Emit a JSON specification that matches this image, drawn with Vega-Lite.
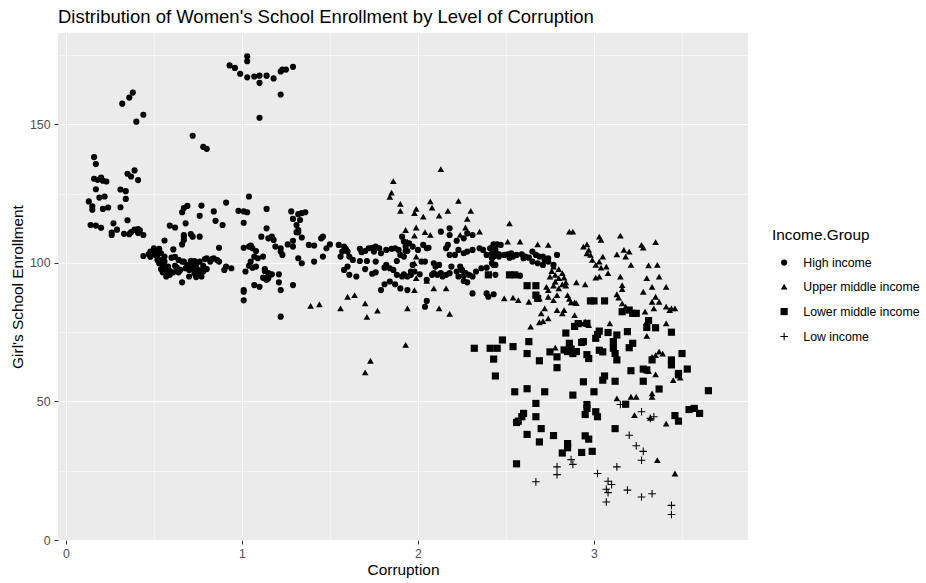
{
"$schema":"https://vega.github.io/schema/vega-lite/v6.json",
"width":690,"height":507,
"autosize":{"type":"none"},
"padding":{"left":58,"top":33,"right":178,"bottom":43},
"background":"white",
"title":{"text":"Distribution of Women's School Enrollment by Level of Corruption","anchor":"start","frame":"group","fontSize":18.5,"fontWeight":"normal","font":"Liberation Sans","color":"#000000","offset":7},
"config":{
"view":{"fill":"#EBEBEB","stroke":null},
"axis":{"domain":false,"labelFont":"Liberation Sans","labelFontSize":12.3,"labelColor":"#4D4D4D","titleFont":"Liberation Sans","titleFontSize":15.4,"titleFontWeight":"normal","titleColor":"#000000","tickColor":"#333333","tickSize":4,"tickWidth":1,"gridColor":"#FFFFFF","labelPadding":3},
"legend":{"titleFont":"Liberation Sans","titleFontSize":15.4,"titleFontWeight":"normal","titleColor":"#000000","labelFont":"Liberation Sans","labelFontSize":12.3,"labelColor":"#000000"}
},
"data":{"values":[
{"c":0.32,"e":157.5,"g":"High income"},{"c":0.36,"e":159.7,"g":"High income"},{"c":0.38,"e":161.5,"g":"High income"},{"c":0.40,"e":151.0,"g":"High income"},{"c":0.44,"e":153.5,"g":"High income"},{"c":0.16,"e":138.2,"g":"High income"},{"c":0.17,"e":135.7,"g":"High income"},{"c":0.16,"e":130.4,"g":"High income"},{"c":0.18,"e":130.0,"g":"High income"},{"c":0.20,"e":130.8,"g":"High income"},{"c":0.21,"e":129.7,"g":"High income"},{"c":0.23,"e":129.4,"g":"High income"},{"c":0.17,"e":126.6,"g":"High income"},{"c":0.31,"e":126.5,"g":"High income"},{"c":0.34,"e":125.9,"g":"High income"},{"c":0.35,"e":132.2,"g":"High income"},{"c":0.37,"e":131.2,"g":"High income"},{"c":0.39,"e":133.4,"g":"High income"},{"c":0.41,"e":129.9,"g":"High income"},{"c":0.72,"e":145.9,"g":"High income"},{"c":0.78,"e":141.9,"g":"High income"},{"c":0.80,"e":141.2,"g":"High income"},{"c":0.93,"e":171.3,"g":"High income"},{"c":0.96,"e":170.4,"g":"High income"},{"c":0.99,"e":168.3,"g":"High income"},{"c":1.03,"e":174.6,"g":"High income"},{"c":1.03,"e":172.8,"g":"High income"},{"c":1.03,"e":167.0,"g":"High income"},{"c":1.07,"e":167.3,"g":"High income"},{"c":1.10,"e":167.6,"g":"High income"},{"c":1.14,"e":167.6,"g":"High income"},{"c":1.10,"e":165.0,"g":"High income"},{"c":1.10,"e":152.4,"g":"High income"},{"c":1.18,"e":166.6,"g":"High income"},{"c":1.22,"e":169.1,"g":"High income"},{"c":1.23,"e":169.8,"g":"High income"},{"c":1.25,"e":169.8,"g":"High income"},{"c":1.29,"e":170.8,"g":"High income"},{"c":1.22,"e":160.8,"g":"High income"},
{"c":0.13,"e":122.2,"g":"High income"},{"c":0.15,"e":120.4,"g":"High income"},{"c":0.15,"e":119.2,"g":"High income"},{"c":0.19,"e":123.6,"g":"High income"},{"c":0.22,"e":124.0,"g":"High income"},{"c":0.21,"e":119.5,"g":"High income"},{"c":0.24,"e":120.0,"g":"High income"},{"c":0.31,"e":120.1,"g":"High income"},{"c":0.34,"e":123.1,"g":"High income"},{"c":0.14,"e":113.7,"g":"High income"},{"c":0.17,"e":113.5,"g":"High income"},{"c":0.20,"e":112.7,"g":"High income"},{"c":0.27,"e":114.3,"g":"High income"},{"c":0.26,"e":111.0,"g":"High income"},{"c":0.26,"e":110.1,"g":"High income"},{"c":0.29,"e":112.0,"g":"High income"},{"c":0.35,"e":115.4,"g":"High income"},{"c":0.33,"e":110.5,"g":"High income"},{"c":0.36,"e":110.4,"g":"High income"},{"c":0.37,"e":111.1,"g":"High income"},{"c":0.39,"e":112.0,"g":"High income"},{"c":0.41,"e":112.2,"g":"High income"},{"c":0.42,"e":111.8,"g":"High income"},{"c":0.41,"e":110.8,"g":"High income"},{"c":0.44,"e":110.1,"g":"High income"},{"c":0.44,"e":102.5,"g":"High income"},{"c":0.48,"e":102.2,"g":"High income"},{"c":0.48,"e":104.1,"g":"High income"},{"c":0.50,"e":105.3,"g":"High income"},{"c":0.51,"e":104.5,"g":"High income"},{"c":0.53,"e":105.1,"g":"High income"},{"c":0.49,"e":103.1,"g":"High income"},{"c":0.52,"e":102.9,"g":"High income"},{"c":0.54,"e":103.5,"g":"High income"},{"c":0.56,"e":102.3,"g":"High income"},{"c":0.54,"e":101.0,"g":"High income"},{"c":0.55,"e":99.3,"g":"High income"},{"c":0.55,"e":97.8,"g":"High income"},{"c":0.57,"e":96.9,"g":"High income"},{"c":0.55,"e":96.6,"g":"High income"},{"c":0.59,"e":97.1,"g":"High income"},{"c":0.56,"e":108.1,"g":"High income"},{"c":0.61,"e":104.9,"g":"High income"},{"c":0.60,"e":101.9,"g":"High income"},{"c":0.62,"e":102.2,"g":"High income"},{"c":0.62,"e":99.0,"g":"High income"},{"c":0.64,"e":96.6,"g":"High income"},{"c":0.63,"e":98.3,"g":"High income"},{"c":0.66,"e":100.5,"g":"High income"},{"c":0.67,"e":100.5,"g":"High income"},{"c":0.68,"e":98.1,"g":"High income"},{"c":0.66,"e":93.0,"g":"High income"},{"c":0.69,"e":99.3,"g":"High income"},{"c":0.71,"e":100.8,"g":"High income"},{"c":0.72,"e":99.5,"g":"High income"},{"c":0.72,"e":98.1,"g":"High income"},{"c":0.73,"e":100.7,"g":"High income"},{"c":0.74,"e":99.3,"g":"High income"},{"c":0.75,"e":97.5,"g":"High income"},{"c":0.75,"e":95.7,"g":"High income"},{"c":0.76,"e":96.6,"g":"High income"},{"c":0.77,"e":95.1,"g":"High income"},{"c":0.78,"e":97.8,"g":"High income"},{"c":0.78,"e":96.9,"g":"High income"},{"c":0.76,"e":100.5,"g":"High income"},{"c":0.79,"e":101.4,"g":"High income"},{"c":0.80,"e":101.7,"g":"High income"},{"c":0.83,"e":101.4,"g":"High income"},{"c":0.84,"e":101.7,"g":"High income"},{"c":0.86,"e":101.0,"g":"High income"},{"c":0.87,"e":100.5,"g":"High income"},{"c":0.90,"e":97.5,"g":"High income"},{"c":0.91,"e":98.7,"g":"High income"},{"c":0.94,"e":98.1,"g":"High income"},{"c":0.87,"e":105.5,"g":"High income"},{"c":0.59,"e":113.5,"g":"High income"},{"c":0.62,"e":112.8,"g":"High income"},{"c":0.66,"e":118.3,"g":"High income"},{"c":0.67,"e":119.8,"g":"High income"},{"c":0.69,"e":120.6,"g":"High income"},{"c":0.68,"e":114.3,"g":"High income"},{"c":0.67,"e":109.5,"g":"High income"},{"c":0.67,"e":108.3,"g":"High income"},{"c":0.66,"e":106.7,"g":"High income"},{"c":0.67,"e":110.1,"g":"High income"},{"c":0.71,"e":110.4,"g":"High income"},{"c":0.72,"e":109.5,"g":"High income"},{"c":0.76,"e":109.5,"g":"High income"},{"c":0.76,"e":117.0,"g":"High income"},{"c":0.77,"e":120.7,"g":"High income"},{"c":0.84,"e":118.6,"g":"High income"},{"c":0.85,"e":115.2,"g":"High income"},{"c":0.89,"e":113.7,"g":"High income"},{"c":0.91,"e":121.8,"g":"High income"},{"c":0.98,"e":118.8,"g":"High income"},{"c":1.01,"e":118.6,"g":"High income"},{"c":1.03,"e":118.3,"g":"High income"},{"c":1.01,"e":114.5,"g":"High income"},{"c":1.04,"e":124.0,"g":"High income"},{"c":1.14,"e":119.5,"g":"High income"},{"c":1.14,"e":112.5,"g":"High income"},{"c":1.11,"e":109.5,"g":"High income"},{"c":1.01,"e":105.5,"g":"High income"},{"c":1.04,"e":105.9,"g":"High income"},{"c":1.05,"e":106.3,"g":"High income"},{"c":1.06,"e":105.3,"g":"High income"},{"c":1.08,"e":104.3,"g":"High income"},{"c":1.07,"e":102.3,"g":"High income"},{"c":1.09,"e":101.7,"g":"High income"},{"c":1.05,"e":100.5,"g":"High income"},{"c":1.04,"e":99.0,"g":"High income"},{"c":1.06,"e":98.3,"g":"High income"},{"c":1.08,"e":98.7,"g":"High income"},{"c":1.02,"e":96.9,"g":"High income"},{"c":1.13,"e":97.1,"g":"High income"},{"c":1.15,"e":96.3,"g":"High income"},{"c":1.13,"e":94.5,"g":"High income"},{"c":1.01,"e":90.2,"g":"High income"},{"c":1.01,"e":89.6,"g":"High income"},{"c":1.01,"e":86.5,"g":"High income"},{"c":1.07,"e":92.0,"g":"High income"},{"c":1.10,"e":91.4,"g":"High income"},{"c":1.12,"e":94.7,"g":"High income"},{"c":1.15,"e":108.9,"g":"High income"},
{"c":0.52,"e":101.1,"g":"High income"},{"c":0.53,"e":99.9,"g":"High income"},{"c":0.56,"e":100.5,"g":"High income"},{"c":0.58,"e":98.7,"g":"High income"},{"c":0.51,"e":102.9,"g":"High income"},{"c":0.47,"e":103.1,"g":"High income"},{"c":0.59,"e":95.7,"g":"High income"},{"c":0.61,"e":96.6,"g":"High income"},{"c":0.54,"e":97.8,"g":"High income"},{"c":0.57,"e":95.1,"g":"High income"},{"c":0.64,"e":101.1,"g":"High income"},{"c":0.65,"e":97.5,"g":"High income"},{"c":0.70,"e":97.5,"g":"High income"},{"c":0.73,"e":96.3,"g":"High income"},{"c":0.75,"e":96.9,"g":"High income"},{"c":0.77,"e":97.1,"g":"High income"},{"c":0.78,"e":99.0,"g":"High income"},{"c":0.80,"e":97.8,"g":"High income"},{"c":0.82,"e":100.5,"g":"High income"},{"c":0.70,"e":95.1,"g":"High income"},{"c":0.74,"e":94.9,"g":"High income"},
{"c":1.28,"e":118.6,"g":"High income"},{"c":1.29,"e":115.9,"g":"High income"},{"c":1.31,"e":113.7,"g":"High income"},{"c":1.32,"e":117.6,"g":"High income"},{"c":1.34,"e":118.0,"g":"High income"},{"c":1.36,"e":118.3,"g":"High income"},{"c":1.33,"e":115.5,"g":"High income"},{"c":1.32,"e":111.9,"g":"High income"},{"c":1.32,"e":111.1,"g":"High income"},{"c":1.31,"e":111.1,"g":"High income"},{"c":1.17,"e":109.5,"g":"High income"},{"c":1.18,"e":108.3,"g":"High income"},{"c":1.19,"e":105.9,"g":"High income"},{"c":1.22,"e":105.3,"g":"High income"},{"c":1.22,"e":104.1,"g":"High income"},{"c":1.23,"e":102.9,"g":"High income"},{"c":1.26,"e":106.7,"g":"High income"},{"c":1.29,"e":108.0,"g":"High income"},{"c":1.34,"e":109.2,"g":"High income"},{"c":1.38,"e":106.5,"g":"High income"},{"c":1.41,"e":106.3,"g":"High income"},{"c":1.45,"e":108.9,"g":"High income"},{"c":1.46,"e":109.5,"g":"High income"},{"c":1.48,"e":105.3,"g":"High income"},{"c":1.50,"e":106.7,"g":"High income"},{"c":1.46,"e":102.3,"g":"High income"},{"c":1.41,"e":100.5,"g":"High income"},{"c":1.34,"e":99.9,"g":"High income"},{"c":1.32,"e":101.7,"g":"High income"},{"c":1.29,"e":105.9,"g":"High income"},{"c":1.12,"e":102.3,"g":"High income"},{"c":1.13,"e":97.8,"g":"High income"},{"c":1.15,"e":94.5,"g":"High income"},{"c":1.14,"e":93.9,"g":"High income"},{"c":1.17,"e":95.9,"g":"High income"},{"c":1.21,"e":95.9,"g":"High income"},{"c":1.21,"e":93.0,"g":"High income"},{"c":1.22,"e":90.2,"g":"High income"},{"c":1.29,"e":92.0,"g":"High income"},{"c":1.22,"e":80.6,"g":"High income"},
{"c":1.55,"e":106.5,"g":"High income"},{"c":1.58,"e":105.9,"g":"High income"},{"c":1.59,"e":105.1,"g":"High income"},{"c":1.60,"e":104.1,"g":"High income"},{"c":1.57,"e":104.1,"g":"High income"},{"c":1.56,"e":102.3,"g":"High income"},{"c":1.61,"e":102.3,"g":"High income"},{"c":1.67,"e":105.1,"g":"High income"},{"c":1.68,"e":103.9,"g":"High income"},{"c":1.70,"e":104.3,"g":"High income"},{"c":1.72,"e":105.3,"g":"High income"},{"c":1.74,"e":105.5,"g":"High income"},{"c":1.76,"e":105.9,"g":"High income"},{"c":1.75,"e":104.1,"g":"High income"},{"c":1.78,"e":105.3,"g":"High income"},{"c":1.79,"e":103.5,"g":"High income"},{"c":1.82,"e":104.7,"g":"High income"},{"c":1.85,"e":105.1,"g":"High income"},{"c":1.87,"e":105.3,"g":"High income"},{"c":1.89,"e":104.7,"g":"High income"},{"c":1.90,"e":102.9,"g":"High income"},{"c":1.92,"e":102.3,"g":"High income"},{"c":1.93,"e":104.3,"g":"High income"},{"c":1.88,"e":100.7,"g":"High income"},{"c":1.82,"e":99.3,"g":"High income"},{"c":1.76,"e":100.5,"g":"High income"},{"c":1.71,"e":100.7,"g":"High income"},{"c":1.67,"e":100.7,"g":"High income"},{"c":1.63,"e":101.1,"g":"High income"},{"c":1.60,"e":98.7,"g":"High income"},{"c":1.58,"e":97.5,"g":"High income"},{"c":1.61,"e":95.7,"g":"High income"},{"c":1.65,"e":95.1,"g":"High income"},{"c":1.70,"e":97.8,"g":"High income"},{"c":1.74,"e":96.1,"g":"High income"},{"c":1.76,"e":96.6,"g":"High income"},{"c":1.81,"e":98.3,"g":"High income"},{"c":1.84,"e":98.1,"g":"High income"},{"c":1.86,"e":97.5,"g":"High income"},{"c":1.88,"e":95.7,"g":"High income"},{"c":1.91,"e":95.1,"g":"High income"},{"c":1.92,"e":95.9,"g":"High income"},{"c":1.94,"e":95.1,"g":"High income"},{"c":1.96,"e":95.7,"g":"High income"},{"c":1.98,"e":96.9,"g":"High income"},{"c":1.84,"e":93.3,"g":"High income"},{"c":1.81,"e":92.3,"g":"High income"},{"c":1.79,"e":90.2,"g":"High income"},{"c":1.87,"e":92.3,"g":"High income"},{"c":1.90,"e":90.8,"g":"High income"},{"c":1.94,"e":90.2,"g":"High income"},
{"c":1.91,"e":109.5,"g":"High income"},{"c":1.92,"e":107.7,"g":"High income"},{"c":1.95,"e":107.1,"g":"High income"},{"c":1.97,"e":105.9,"g":"High income"},{"c":1.93,"e":105.9,"g":"High income"},{"c":1.94,"e":104.3,"g":"High income"},{"c":2.00,"e":104.7,"g":"High income"},{"c":2.03,"e":106.5,"g":"High income"},{"c":2.05,"e":105.3,"g":"High income"},{"c":2.06,"e":105.5,"g":"High income"},{"c":2.04,"e":100.5,"g":"High income"},{"c":2.02,"e":100.5,"g":"High income"},{"c":2.09,"e":99.9,"g":"High income"},{"c":2.10,"e":98.7,"g":"High income"},{"c":2.12,"e":99.3,"g":"High income"},{"c":2.09,"e":96.3,"g":"High income"},{"c":2.11,"e":95.7,"g":"High income"},{"c":2.13,"e":96.3,"g":"High income"},{"c":2.14,"e":95.1,"g":"High income"},{"c":2.16,"e":95.7,"g":"High income"},{"c":2.18,"e":96.3,"g":"High income"},{"c":2.19,"e":98.7,"g":"High income"},{"c":2.22,"e":96.9,"g":"High income"},{"c":2.24,"e":98.7,"g":"High income"},{"c":2.25,"e":97.5,"g":"High income"},{"c":2.23,"e":95.1,"g":"High income"},{"c":2.26,"e":95.4,"g":"High income"},{"c":2.27,"e":96.3,"g":"High income"},{"c":2.29,"e":95.7,"g":"High income"},{"c":2.26,"e":93.5,"g":"High income"},{"c":2.28,"e":93.0,"g":"High income"},{"c":2.31,"e":95.1,"g":"High income"},{"c":2.33,"e":96.9,"g":"High income"},{"c":2.36,"e":98.1,"g":"High income"},{"c":2.39,"e":98.3,"g":"High income"},{"c":2.42,"e":99.9,"g":"High income"},{"c":2.44,"e":99.3,"g":"High income"},{"c":2.42,"e":101.7,"g":"High income"},{"c":2.44,"e":103.5,"g":"High income"},{"c":2.41,"e":105.3,"g":"High income"},{"c":2.37,"e":104.7,"g":"High income"},{"c":2.35,"e":105.3,"g":"High income"},{"c":2.31,"e":104.7,"g":"High income"},{"c":2.28,"e":104.1,"g":"High income"},{"c":2.26,"e":103.5,"g":"High income"},{"c":2.23,"e":104.7,"g":"High income"},{"c":2.21,"e":102.9,"g":"High income"},{"c":2.18,"e":102.9,"g":"High income"},{"c":2.16,"e":105.3,"g":"High income"},{"c":2.17,"e":106.5,"g":"High income"},{"c":2.13,"e":111.3,"g":"High income"},{"c":2.18,"e":112.5,"g":"High income"},{"c":2.18,"e":110.1,"g":"High income"},{"c":2.22,"e":108.0,"g":"High income"},{"c":2.26,"e":108.9,"g":"High income"},{"c":2.28,"e":110.7,"g":"High income"},{"c":2.31,"e":110.1,"g":"High income"},{"c":2.39,"e":102.9,"g":"High income"},{"c":2.43,"e":106.7,"g":"High income"},{"c":2.46,"e":103.1,"g":"High income"},{"c":2.05,"e":86.3,"g":"High income"},{"c":2.04,"e":84.2,"g":"High income"},{"c":2.31,"e":89.0,"g":"High income"},{"c":2.39,"e":89.0,"g":"High income"},{"c":2.40,"e":87.8,"g":"High income"},{"c":1.97,"e":99.3,"g":"High income"},{"c":1.96,"e":96.9,"g":"High income"},{"c":2.01,"e":95.9,"g":"High income"},{"c":2.05,"e":93.9,"g":"High income"},{"c":2.08,"e":95.7,"g":"High income"},
{"c":2.43,"e":106.5,"g":"High income"},{"c":2.45,"e":106.7,"g":"High income"},{"c":2.47,"e":106.5,"g":"High income"},{"c":2.44,"e":104.7,"g":"High income"},{"c":2.42,"e":103.5,"g":"High income"},{"c":2.43,"e":102.3,"g":"High income"},{"c":2.46,"e":102.3,"g":"High income"},{"c":2.49,"e":102.9,"g":"High income"},{"c":2.51,"e":103.1,"g":"High income"},{"c":2.53,"e":103.5,"g":"High income"},{"c":2.52,"e":101.9,"g":"High income"},{"c":2.54,"e":102.3,"g":"High income"},{"c":2.56,"e":102.9,"g":"High income"},{"c":2.59,"e":103.1,"g":"High income"},{"c":2.60,"e":101.7,"g":"High income"},{"c":2.61,"e":102.3,"g":"High income"},{"c":2.63,"e":101.9,"g":"High income"},{"c":2.65,"e":104.1,"g":"High income"},{"c":2.67,"e":102.9,"g":"High income"},{"c":2.69,"e":102.3,"g":"High income"},{"c":2.71,"e":102.3,"g":"High income"},{"c":2.74,"e":101.7,"g":"High income"},{"c":2.79,"e":102.9,"g":"High income"},{"c":2.65,"e":100.5,"g":"High income"},{"c":2.68,"e":99.9,"g":"High income"},{"c":2.71,"e":99.3,"g":"High income"},{"c":2.74,"e":100.5,"g":"High income"},{"c":2.43,"e":99.3,"g":"High income"},{"c":2.44,"e":95.7,"g":"High income"},{"c":2.58,"e":95.4,"g":"High income"},{"c":2.43,"e":88.7,"g":"High income"},{"c":2.72,"e":101.1,"g":"High income"},{"c":2.77,"e":99.3,"g":"High income"},
{"c":2.13,"e":133.9,"g":"Upper middle income"},{"c":1.86,"e":129.5,"g":"Upper middle income"},{"c":1.85,"e":125.4,"g":"Upper middle income"},{"c":1.84,"e":123.9,"g":"Upper middle income"},{"c":1.90,"e":121.3,"g":"Upper middle income"},{"c":2.07,"e":122.2,"g":"Upper middle income"},{"c":2.23,"e":122.4,"g":"Upper middle income"},{"c":1.90,"e":118.8,"g":"Upper middle income"},{"c":1.98,"e":118.0,"g":"Upper middle income"},{"c":1.99,"e":119.5,"g":"Upper middle income"},{"c":2.03,"e":116.7,"g":"Upper middle income"},{"c":2.08,"e":120.0,"g":"Upper middle income"},{"c":2.12,"e":117.1,"g":"Upper middle income"},{"c":2.17,"e":118.8,"g":"Upper middle income"},{"c":2.30,"e":118.8,"g":"Upper middle income"},{"c":2.28,"e":115.9,"g":"Upper middle income"},{"c":2.27,"e":112.8,"g":"Upper middle income"},{"c":2.35,"e":111.3,"g":"Upper middle income"},{"c":2.24,"e":110.1,"g":"Upper middle income"},{"c":1.93,"e":111.9,"g":"Upper middle income"},{"c":1.99,"e":112.8,"g":"Upper middle income"},{"c":1.98,"e":109.9,"g":"Upper middle income"},{"c":2.04,"e":111.1,"g":"Upper middle income"},{"c":2.07,"e":110.1,"g":"Upper middle income"},{"c":1.94,"e":107.7,"g":"Upper middle income"},{"c":1.99,"e":102.3,"g":"Upper middle income"},{"c":1.98,"e":99.9,"g":"Upper middle income"},{"c":1.99,"e":94.5,"g":"Upper middle income"},{"c":1.98,"e":90.2,"g":"Upper middle income"},{"c":2.05,"e":93.5,"g":"Upper middle income"},{"c":2.09,"e":90.8,"g":"Upper middle income"},{"c":2.16,"e":90.8,"g":"Upper middle income"},{"c":1.39,"e":84.5,"g":"Upper middle income"},{"c":1.44,"e":85.1,"g":"Upper middle income"},{"c":1.56,"e":83.6,"g":"Upper middle income"},{"c":1.60,"e":87.8,"g":"Upper middle income"},{"c":1.64,"e":88.4,"g":"Upper middle income"},{"c":1.70,"e":85.4,"g":"Upper middle income"},{"c":1.77,"e":82.8,"g":"Upper middle income"},{"c":1.71,"e":80.5,"g":"Upper middle income"},{"c":1.94,"e":83.6,"g":"Upper middle income"},{"c":2.12,"e":83.6,"g":"Upper middle income"},{"c":2.18,"e":81.6,"g":"Upper middle income"},{"c":1.93,"e":70.4,"g":"Upper middle income"},{"c":1.73,"e":64.7,"g":"Upper middle income"},{"c":1.70,"e":60.5,"g":"Upper middle income"},
{"c":2.52,"e":114.3,"g":"Upper middle income"},{"c":2.51,"e":107.7,"g":"Upper middle income"},{"c":2.58,"e":107.7,"g":"Upper middle income"},{"c":2.68,"e":106.7,"g":"Upper middle income"},{"c":2.74,"e":106.5,"g":"Upper middle income"},{"c":2.86,"e":111.3,"g":"Upper middle income"},{"c":2.88,"e":111.3,"g":"Upper middle income"},{"c":2.94,"e":105.9,"g":"Upper middle income"},{"c":2.96,"e":106.7,"g":"Upper middle income"},{"c":2.97,"e":104.7,"g":"Upper middle income"},{"c":2.96,"e":103.5,"g":"Upper middle income"},{"c":2.98,"e":102.9,"g":"Upper middle income"},{"c":2.99,"e":101.1,"g":"Upper middle income"},{"c":3.01,"e":99.3,"g":"Upper middle income"},{"c":3.03,"e":100.5,"g":"Upper middle income"},{"c":3.04,"e":98.3,"g":"Upper middle income"},{"c":3.05,"e":102.3,"g":"Upper middle income"},{"c":3.07,"e":98.7,"g":"Upper middle income"},{"c":3.08,"e":96.3,"g":"Upper middle income"},{"c":3.03,"e":95.1,"g":"Upper middle income"},{"c":3.01,"e":94.7,"g":"Upper middle income"},{"c":3.03,"e":109.5,"g":"Upper middle income"},{"c":3.04,"e":108.3,"g":"Upper middle income"},{"c":3.15,"e":109.9,"g":"Upper middle income"},{"c":3.13,"e":103.1,"g":"Upper middle income"},{"c":3.17,"e":104.7,"g":"Upper middle income"},{"c":3.18,"e":102.3,"g":"Upper middle income"},{"c":3.20,"e":104.1,"g":"Upper middle income"},{"c":3.21,"e":99.3,"g":"Upper middle income"},{"c":3.27,"e":106.5,"g":"Upper middle income"},{"c":3.28,"e":105.5,"g":"Upper middle income"},{"c":3.35,"e":107.5,"g":"Upper middle income"},{"c":3.31,"e":99.1,"g":"Upper middle income"},{"c":3.36,"e":99.3,"g":"Upper middle income"},{"c":3.30,"e":94.5,"g":"Upper middle income"},{"c":3.37,"e":95.1,"g":"Upper middle income"},{"c":3.33,"e":91.4,"g":"Upper middle income"},{"c":3.41,"e":91.4,"g":"Upper middle income"},{"c":3.28,"e":89.6,"g":"Upper middle income"},{"c":3.35,"e":87.8,"g":"Upper middle income"},{"c":3.33,"e":86.0,"g":"Upper middle income"},{"c":3.37,"e":86.0,"g":"Upper middle income"},{"c":3.29,"e":82.4,"g":"Upper middle income"},{"c":3.34,"e":83.6,"g":"Upper middle income"},{"c":3.41,"e":84.2,"g":"Upper middle income"},{"c":3.43,"e":83.0,"g":"Upper middle income"},{"c":3.44,"e":83.6,"g":"Upper middle income"},{"c":3.46,"e":83.6,"g":"Upper middle income"},{"c":3.30,"e":78.8,"g":"Upper middle income"},{"c":3.35,"e":77.0,"g":"Upper middle income"},{"c":3.41,"e":78.2,"g":"Upper middle income"},{"c":3.15,"e":95.1,"g":"Upper middle income"},{"c":3.16,"e":92.0,"g":"Upper middle income"},{"c":3.16,"e":90.6,"g":"Upper middle income"},{"c":3.13,"e":88.7,"g":"Upper middle income"},{"c":3.14,"e":87.5,"g":"Upper middle income"},{"c":3.16,"e":85.4,"g":"Upper middle income"},{"c":3.18,"e":84.2,"g":"Upper middle income"},{"c":3.09,"e":78.2,"g":"Upper middle income"},{"c":3.19,"e":75.4,"g":"Upper middle income"},{"c":3.30,"e":73.7,"g":"Upper middle income"},{"c":2.77,"e":98.7,"g":"Upper middle income"},{"c":2.76,"e":97.1,"g":"Upper middle income"},{"c":2.78,"e":95.7,"g":"Upper middle income"},{"c":2.80,"e":97.8,"g":"Upper middle income"},{"c":2.82,"e":96.3,"g":"Upper middle income"},{"c":2.83,"e":94.7,"g":"Upper middle income"},{"c":2.84,"e":93.0,"g":"Upper middle income"},{"c":2.84,"e":91.8,"g":"Upper middle income"},{"c":2.82,"e":92.3,"g":"Upper middle income"},{"c":2.78,"e":93.3,"g":"Upper middle income"},{"c":2.75,"e":95.1,"g":"Upper middle income"},{"c":2.73,"e":91.4,"g":"Upper middle income"},{"c":2.74,"e":90.2,"g":"Upper middle income"},{"c":2.77,"e":91.8,"g":"Upper middle income"},{"c":2.80,"e":94.5,"g":"Upper middle income"},{"c":2.80,"e":90.8,"g":"Upper middle income"},{"c":2.85,"e":88.4,"g":"Upper middle income"},{"c":2.86,"e":87.0,"g":"Upper middle income"},{"c":2.89,"e":85.8,"g":"Upper middle income"},{"c":2.79,"e":88.4,"g":"Upper middle income"},{"c":2.77,"e":86.6,"g":"Upper middle income"},{"c":2.74,"e":87.8,"g":"Upper middle income"},{"c":2.69,"e":87.2,"g":"Upper middle income"},{"c":2.72,"e":83.6,"g":"Upper middle income"},{"c":2.70,"e":81.8,"g":"Upper middle income"},{"c":2.74,"e":80.0,"g":"Upper middle income"},{"c":2.71,"e":79.0,"g":"Upper middle income"},{"c":2.69,"e":78.6,"g":"Upper middle income"},{"c":2.64,"e":77.0,"g":"Upper middle income"},{"c":2.79,"e":83.0,"g":"Upper middle income"},{"c":2.83,"e":83.0,"g":"Upper middle income"},{"c":2.82,"e":81.8,"g":"Upper middle income"},{"c":2.89,"e":81.2,"g":"Upper middle income"},{"c":2.91,"e":78.2,"g":"Upper middle income"},{"c":2.93,"e":78.2,"g":"Upper middle income"},{"c":2.95,"e":78.8,"g":"Upper middle income"},{"c":2.97,"e":77.6,"g":"Upper middle income"},{"c":2.49,"e":87.2,"g":"Upper middle income"},{"c":2.54,"e":87.5,"g":"Upper middle income"},{"c":2.57,"e":86.6,"g":"Upper middle income"},{"c":2.63,"e":86.0,"g":"Upper middle income"},{"c":2.90,"e":93.0,"g":"Upper middle income"},{"c":2.95,"e":92.3,"g":"Upper middle income"},{"c":2.87,"e":85.8,"g":"Upper middle income"},{"c":2.90,"e":85.5,"g":"Upper middle income"},{"c":2.78,"e":69.4,"g":"Upper middle income"},{"c":3.33,"e":66.1,"g":"Upper middle income"},{"c":3.35,"e":66.7,"g":"Upper middle income"},{"c":3.37,"e":68.0,"g":"Upper middle income"},{"c":3.39,"e":67.3,"g":"Upper middle income"},{"c":3.31,"e":61.0,"g":"Upper middle income"},{"c":3.35,"e":59.8,"g":"Upper middle income"},{"c":3.45,"e":57.7,"g":"Upper middle income"},{"c":3.49,"e":58.6,"g":"Upper middle income"},{"c":3.33,"e":52.9,"g":"Upper middle income"},{"c":3.33,"e":51.7,"g":"Upper middle income"},{"c":3.13,"e":51.1,"g":"Upper middle income"},{"c":3.21,"e":51.7,"g":"Upper middle income"},{"c":3.24,"e":51.7,"g":"Upper middle income"},{"c":3.23,"e":45.1,"g":"Upper middle income"},{"c":3.32,"e":44.1,"g":"Upper middle income"},{"c":3.41,"e":42.0,"g":"Upper middle income"},{"c":3.36,"e":28.8,"g":"Upper middle income"},{"c":3.46,"e":24.0,"g":"Upper middle income"},
{"c":2.32,"e":69.2,"g":"Lower middle income"},{"c":2.41,"e":69.2,"g":"Lower middle income"},{"c":2.45,"e":69.2,"g":"Lower middle income"},{"c":2.43,"e":65.3,"g":"Lower middle income"},{"c":2.40,"e":95.7,"g":"Lower middle income"},{"c":2.44,"e":59.2,"g":"Lower middle income"},{"c":2.52,"e":95.7,"g":"Lower middle income"},{"c":2.55,"e":95.7,"g":"Lower middle income"},{"c":2.67,"e":91.8,"g":"Lower middle income"},{"c":2.62,"e":91.8,"g":"Lower middle income"},{"c":2.67,"e":88.4,"g":"Lower middle income"},{"c":2.68,"e":87.2,"g":"Lower middle income"},{"c":2.98,"e":86.3,"g":"Lower middle income"},{"c":3.00,"e":86.3,"g":"Lower middle income"},{"c":3.06,"e":86.3,"g":"Lower middle income"},{"c":3.16,"e":82.4,"g":"Lower middle income"},{"c":3.20,"e":83.0,"g":"Lower middle income"},{"c":3.22,"e":81.8,"g":"Lower middle income"},{"c":3.24,"e":81.8,"g":"Lower middle income"},{"c":3.31,"e":79.2,"g":"Lower middle income"},{"c":3.30,"e":76.7,"g":"Lower middle income"},{"c":3.35,"e":76.6,"g":"Lower middle income"},{"c":3.44,"e":75.0,"g":"Lower middle income"},{"c":2.84,"e":74.7,"g":"Lower middle income"},{"c":2.89,"e":77.1,"g":"Lower middle income"},{"c":2.91,"e":78.1,"g":"Lower middle income"},{"c":2.96,"e":78.2,"g":"Lower middle income"},{"c":3.03,"e":75.4,"g":"Lower middle income"},{"c":3.02,"e":74.2,"g":"Lower middle income"},{"c":3.08,"e":74.9,"g":"Lower middle income"},{"c":3.13,"e":74.0,"g":"Lower middle income"},{"c":3.19,"e":75.2,"g":"Lower middle income"},{"c":2.86,"e":71.0,"g":"Lower middle income"},{"c":2.94,"e":71.6,"g":"Lower middle income"},{"c":3.01,"e":72.8,"g":"Lower middle income"},{"c":3.11,"e":71.6,"g":"Lower middle income"},{"c":3.11,"e":69.2,"g":"Lower middle income"},{"c":3.12,"e":67.3,"g":"Lower middle income"},{"c":3.22,"e":71.0,"g":"Lower middle income"},{"c":3.20,"e":69.4,"g":"Lower middle income"},{"c":2.48,"e":72.2,"g":"Lower middle income"},{"c":2.54,"e":69.8,"g":"Lower middle income"},{"c":2.63,"e":71.6,"g":"Lower middle income"},{"c":2.62,"e":67.3,"g":"Lower middle income"},{"c":2.69,"e":64.7,"g":"Lower middle income"},{"c":2.75,"e":67.9,"g":"Lower middle income"},{"c":2.79,"e":66.1,"g":"Lower middle income"},{"c":2.79,"e":62.2,"g":"Lower middle income"},{"c":2.83,"e":68.6,"g":"Lower middle income"},{"c":2.85,"e":68.0,"g":"Lower middle income"},{"c":2.87,"e":68.9,"g":"Lower middle income"},{"c":2.88,"e":67.3,"g":"Lower middle income"},{"c":2.90,"e":68.0,"g":"Lower middle income"},{"c":2.93,"e":71.3,"g":"Lower middle income"},{"c":2.96,"e":66.9,"g":"Lower middle income"},{"c":2.97,"e":65.5,"g":"Lower middle income"},{"c":3.03,"e":68.5,"g":"Lower middle income"},{"c":3.05,"e":67.9,"g":"Lower middle income"},{"c":3.13,"e":65.0,"g":"Lower middle income"},{"c":3.33,"e":65.0,"g":"Lower middle income"},{"c":3.44,"e":65.0,"g":"Lower middle income"},{"c":3.44,"e":63.2,"g":"Lower middle income"},{"c":3.50,"e":67.3,"g":"Lower middle income"},{"c":3.53,"e":61.7,"g":"Lower middle income"},{"c":3.06,"e":59.2,"g":"Lower middle income"},{"c":3.21,"e":61.1,"g":"Lower middle income"},{"c":3.28,"e":61.7,"g":"Lower middle income"},{"c":3.30,"e":61.4,"g":"Lower middle income"},{"c":3.48,"e":59.6,"g":"Lower middle income"},{"c":3.48,"e":60.1,"g":"Lower middle income"},{"c":3.65,"e":53.9,"g":"Lower middle income"},{"c":2.94,"e":57.1,"g":"Lower middle income"},{"c":3.05,"e":57.7,"g":"Lower middle income"},{"c":3.12,"e":57.3,"g":"Lower middle income"},{"c":3.28,"e":57.3,"g":"Lower middle income"},{"c":3.00,"e":53.5,"g":"Lower middle income"},{"c":2.55,"e":53.5,"g":"Lower middle income"},{"c":2.62,"e":54.6,"g":"Lower middle income"},{"c":2.72,"e":53.5,"g":"Lower middle income"},{"c":2.67,"e":49.3,"g":"Lower middle income"},{"c":2.88,"e":52.3,"g":"Lower middle income"},{"c":2.96,"e":48.9,"g":"Lower middle income"},{"c":2.96,"e":47.5,"g":"Lower middle income"},{"c":2.95,"e":45.3,"g":"Lower middle income"},{"c":3.01,"e":46.3,"g":"Lower middle income"},{"c":3.02,"e":44.5,"g":"Lower middle income"},{"c":2.60,"e":45.7,"g":"Lower middle income"},{"c":2.59,"e":44.5,"g":"Lower middle income"},{"c":2.57,"e":42.9,"g":"Lower middle income"},{"c":2.56,"e":42.4,"g":"Lower middle income"},{"c":2.67,"e":44.5,"g":"Lower middle income"},{"c":2.70,"e":40.2,"g":"Lower middle income"},{"c":2.62,"e":38.1,"g":"Lower middle income"},{"c":2.69,"e":35.4,"g":"Lower middle income"},{"c":2.77,"e":37.7,"g":"Lower middle income"},{"c":2.85,"e":34.8,"g":"Lower middle income"},{"c":2.85,"e":33.3,"g":"Lower middle income"},{"c":2.82,"e":31.4,"g":"Lower middle income"},{"c":2.95,"e":37.6,"g":"Lower middle income"},{"c":2.97,"e":36.4,"g":"Lower middle income"},{"c":2.93,"e":31.6,"g":"Lower middle income"},{"c":2.99,"e":32.0,"g":"Lower middle income"},{"c":3.12,"e":40.2,"g":"Lower middle income"},{"c":2.56,"e":27.5,"g":"Lower middle income"},{"c":3.18,"e":49.0,"g":"Lower middle income"},{"c":3.37,"e":54.5,"g":"Lower middle income"},{"c":3.54,"e":47.1,"g":"Lower middle income"},{"c":3.57,"e":47.5,"g":"Lower middle income"},{"c":3.60,"e":45.7,"g":"Lower middle income"},{"c":3.46,"e":44.9,"g":"Lower middle income"},{"c":3.48,"e":42.9,"g":"Lower middle income"},
{"c":3.15,"e":48.9,"g":"Low income"},{"c":3.27,"e":46.3,"g":"Low income"},{"c":3.32,"e":43.9,"g":"Low income"},{"c":3.34,"e":44.5,"g":"Low income"},{"c":3.20,"e":37.8,"g":"Low income"},{"c":3.24,"e":34.0,"g":"Low income"},{"c":3.28,"e":32.0,"g":"Low income"},{"c":3.27,"e":28.8,"g":"Low income"},{"c":3.13,"e":26.4,"g":"Low income"},{"c":3.02,"e":24.0,"g":"Low income"},{"c":2.87,"e":29.0,"g":"Low income"},{"c":2.88,"e":27.3,"g":"Low income"},{"c":2.79,"e":26.4,"g":"Low income"},{"c":2.79,"e":23.6,"g":"Low income"},{"c":2.67,"e":21.0,"g":"Low income"},{"c":3.08,"e":21.2,"g":"Low income"},{"c":3.10,"e":20.0,"g":"Low income"},{"c":3.07,"e":18.3,"g":"Low income"},{"c":3.08,"e":17.1,"g":"Low income"},{"c":3.07,"e":13.7,"g":"Low income"},{"c":3.19,"e":18.0,"g":"Low income"},{"c":3.27,"e":15.5,"g":"Low income"},{"c":3.33,"e":16.7,"g":"Low income"},{"c":3.44,"e":12.5,"g":"Low income"},{"c":3.44,"e":9.2,"g":"Low income"}
]},
"mark":{"type":"point","filled":true,"opacity":1,"color":"#000000","strokeWidth":0},
"encoding":{
"x":{"field":"c","type":"quantitative","scale":{"domain":[-0.045,3.875],"nice":false,"zero":false},
"axis":{"title":"Corruption","values":[0,0.5,1,1.5,2,2.5,3,3.5],"labelExpr":"datum.value % 1 === 0 ? '' + datum.value : ''","tickOpacity":{"condition":{"test":"datum.value % 1 === 0","value":1},"value":0},"gridWidth":{"condition":{"test":"datum.value % 1 === 0","value":1.1},"value":0.55},"titlePadding":3}},
"y":{"field":"e","type":"quantitative","scale":{"domain":[0,183],"nice":false,"zero":false},
"axis":{"title":"Girl's School Enrollment","values":[0,25,50,75,100,125,150,175],"labelExpr":"datum.value % 50 === 0 ? '' + datum.value : ''","tickOpacity":{"condition":{"test":"datum.value % 50 === 0","value":1},"value":0},"gridWidth":{"condition":{"test":"datum.value % 50 === 0","value":1.1},"value":0.55},"labelPadding":4,"titlePadding":4}},
"shape":{"field":"g","type":"nominal","scale":{"domain":["High income","Upper middle income","Lower middle income","Low income"],"range":["circle","triangle-up","square","M-1,-0.14H-0.14V-1H0.14V-0.14H1V0.14H0.14V1H-0.14V0.14H-1Z"]},
"legend":{"title":"Income.Group","orient":"none","legendX":714,"legendY":195,"rowPadding":11,"titlePadding":13,"symbolOffset":6,"labelOffset":13}},
"size":{"field":"g","type":"nominal","scale":{"domain":["High income","Upper middle income","Lower middle income","Low income"],"range":[38,58,28,70]},
"legend":{"title":"Income.Group","orient":"none","legendX":714,"legendY":195,"rowPadding":11,"titlePadding":13,"symbolOffset":6,"labelOffset":13}}
}
}
